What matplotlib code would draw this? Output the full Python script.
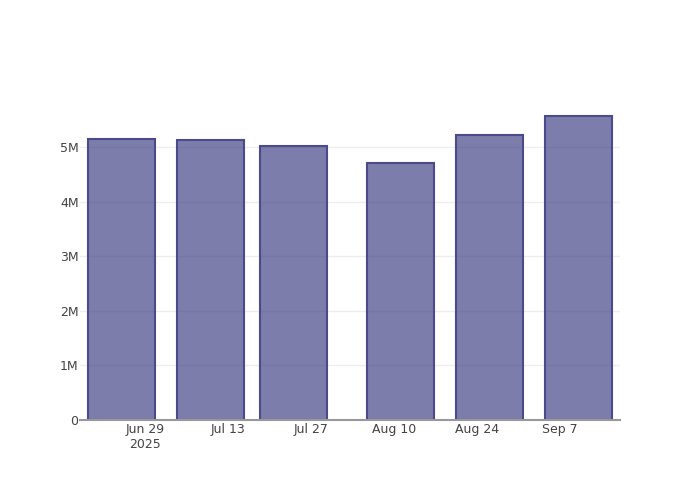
import pandas as pd
import matplotlib.pyplot as plt
from matplotlib.ticker import FuncFormatter

# Bar data (dates and values)
dates = pd.to_datetime(["2025-06-25 00:00", "2025-07-10 00:00", "2025-07-24 00:00",
                        "2025-08-11 04:00", "2025-08-26 04:00", "2025-09-10 04:00"])
values = [5.14e6, 5.12e6, 5.01e6, 4.70e6, 5.22e6, 5.57e6]

tick_dates = pd.to_datetime(["2025-06-29", "2025-07-13", "2025-07-27",
                             "2025-08-10", "2025-08-24", "2025-09-07"])
tick_labels = ["Jun 29\n2025", "Jul 13", "Jul 27", "Aug 10", "Aug 24", "Sep 7"]

fig = plt.figure(figsize=(7, 5), dpi=100)
ax = fig.add_axes([80 / 700, 80 / 500, 540 / 700, 320 / 500])

ax.bar(dates, values, width=11.3, color=(55/255, 55/255, 128/255, 0.65),
       edgecolor="#4a4a8c", linewidth=1.5, zorder=3)

ax.set_xlim(pd.Timestamp("2025-06-18 01:00"), pd.Timestamp("2025-09-17 03:00"))
ax.set_ylim(0, 5.86e6)

ax.set_xticks(tick_dates)
ax.set_xticklabels(tick_labels)
ax.set_yticks([0, 1e6, 2e6, 3e6, 4e6, 5e6])
ax.yaxis.set_major_formatter(FuncFormatter(lambda v, p: "0" if v == 0 else f"{int(v/1e6)}M"))

ax.tick_params(axis="x", length=0, labelsize=9, colors="#444444", pad=2)
ax.tick_params(axis="y", length=0, labelsize=9, colors="#444444", pad=1)
ax.grid(axis="y", color="#eeeeee", linewidth=1, zorder=0)

for s in ["top", "right", "left"]:
    ax.spines[s].set_visible(False)
ax.spines["bottom"].set_color("#999999")
ax.spines["bottom"].set_linewidth(1.5)
ax.spines["bottom"].set_zorder(4)

fig.savefig("out.png", dpi=100)
